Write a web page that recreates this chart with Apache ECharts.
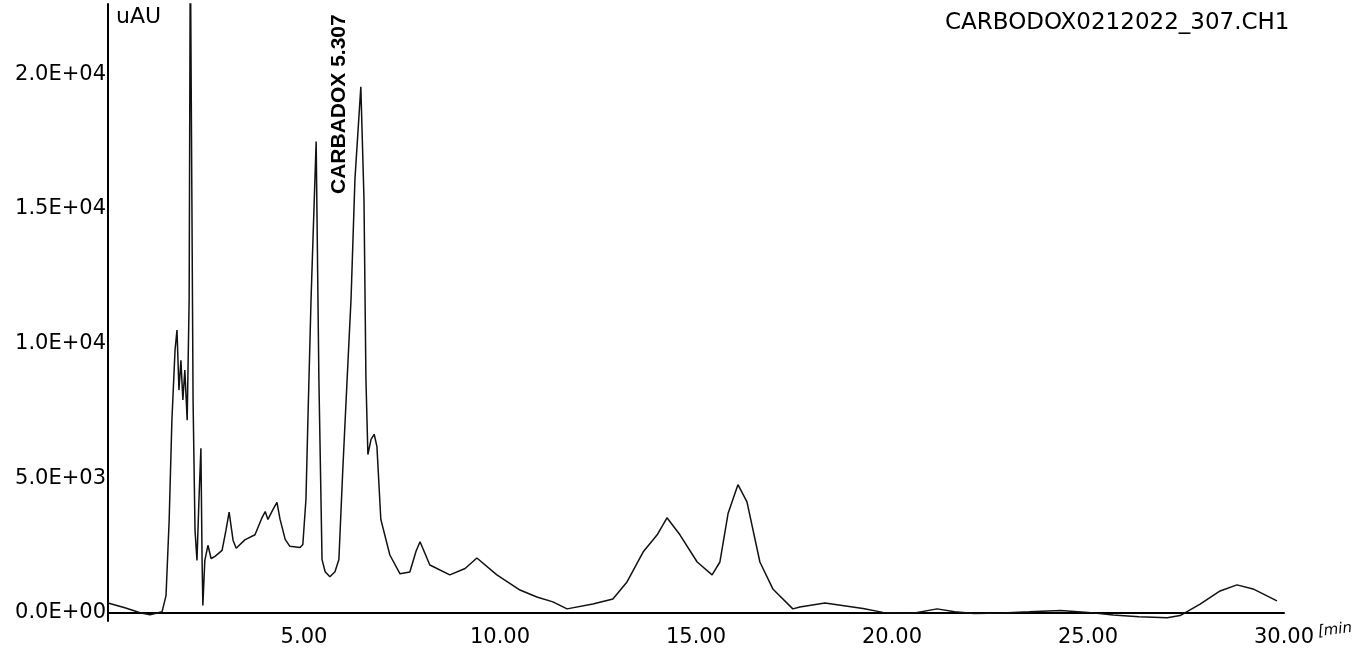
<!DOCTYPE html>
<html>
<head>
<meta charset="utf-8">
<script src="https://cdn.jsdelivr.net/npm/echarts@6/dist/echarts.min.js"></script>
<style>
html,body{margin:0;padding:0;background:#fff;}
#c{width:1352px;height:659px;}
</style>
</head>
<body>
<div id="c"></div>
<script>
// Retention time (min)
const times = [0, 0.43, 0.82, 1.07, 1.38, 1.48, 1.56, 1.63, 1.71, 1.76, 1.81, 1.86, 1.91, 1.96, 2.02, 2.07, 2.10, 2.14, 2.17, 2.22, 2.27, 2.32, 2.37, 2.40, 2.42, 2.47, 2.55, 2.63, 2.73, 2.91, 3.01, 3.09, 3.19, 3.27, 3.49, 3.75, 3.93, 4.01, 4.08, 4.21, 4.31, 4.39, 4.52, 4.64, 4.90, 4.97, 5.05, 5.10, 5.18, 5.31, 5.38, 5.46, 5.54, 5.66, 5.79, 5.89, 5.99, 6.10, 6.20, 6.30, 6.45, 6.53, 6.58, 6.63, 6.71, 6.79, 6.86, 6.96, 7.19, 7.45, 7.70, 7.86, 7.96, 8.06, 8.21, 8.72, 9.11, 9.41, 9.92, 10.51, 10.94, 11.35, 11.71, 12.37, 12.88, 13.24, 13.65, 14.01, 14.26, 14.59, 15.03, 15.41, 15.61, 15.82, 16.07, 16.30, 16.63, 16.96, 17.47, 17.65, 18.29, 19.26, 19.77, 20.54, 21.15, 21.60, 22.10, 22.80, 23.50, 24.30, 25.00, 25.64, 26.30, 27.02, 27.35, 27.86, 28.37, 28.80, 29.21, 29.82];
// Detector response (uAU)
const response = [370, 190, 5, -70, 46, 640, 3430, 7150, 9750, 10500, 8270, 9380, 7900, 9010, 7150, 11610, 25000, 15330, 7900, 3060, 1950, 4180, 6110, 1950, 280, 1950, 2510, 2020, 2100, 2320, 3070, 3740, 2700, 2400, 2710, 2900, 3540, 3760, 3470, 3840, 4100, 3470, 2730, 2470, 2430, 2540, 4220, 7190, 11650, 17500, 8670, 1980, 1530, 1340, 1530, 1980, 5330, 8670, 11650, 16110, 19530, 15370, 8670, 5880, 6440, 6630, 6180, 3470, 2150, 1450, 1520, 2300, 2640, 2300, 1780, 1410, 1650, 2040, 1410, 850, 590, 410, 150, 330, 520, 1150, 2260, 2900, 3530, 2900, 1890, 1410, 1890, 3700, 4760, 4120, 1890, 890, 150, 220, 370, 160, 20, -10, 150, 40, -20, 0, 40, 90, 20, -80, -140, -180, -100, 330, 815, 1040, 890, 445];
// Axis tick labels
const xTicks = [5, 10, 15, 20, 25, 30];
const yTicks = [0, 5000, 10000, 15000, 20000];
const peakName = 'CARBADOX';
const peakTime = 5.307;
const peakValue = 17500;

const FONT = 'DejaVu Sans';
function sci(v) {
  if (v === 0) return '0.0E+00';
  const e = Math.floor(Math.log10(Math.abs(v)));
  const m = v / Math.pow(10, e);
  return m.toFixed(1) + 'E+' + String(e).padStart(2, '0');
}

const chart = echarts.init(document.getElementById('c'));
const data = times.map((t, i) => [t, response[i]]);

chart.setOption({
  animation: false,
  backgroundColor: '#fff',
  grid: { left: 108, right: 68, top: 4, bottom: 38, containLabel: false },
  xAxis: {
    type: 'value', min: 0, max: 30, interval: 5,
    axisLine: { show: true, lineStyle: { color: '#000', width: 2 } },
    axisTick: { show: false },
    splitLine: { show: false },
    axisLabel: {
      customValues: xTicks,
      formatter: v => v.toFixed(2),
      fontFamily: FONT, fontSize: 21, color: '#000', margin: 6
    }
  },
  yAxis: {
    type: 'value', min: -300, max: 22600,
    axisLine: { show: true, lineStyle: { color: '#000', width: 2 } },
    axisTick: { show: false },
    splitLine: { show: false },
    axisLabel: {
      customValues: yTicks,
      formatter: v => sci(v),
      fontFamily: FONT, fontSize: 21, color: '#000', margin: 2
    }
  },
  series: [{
    type: 'line',
    data: data,
    showSymbol: false,
    clip: true,
    lineStyle: { color: '#111', width: 1.5 }
  }]
});

const p = chart.convertToPixel({ gridIndex: 0 }, [peakTime, peakValue]);
chart.setOption({
  graphic: [
    { type: 'text', left: 116, top: 6, style: { text: 'uAU', font: '22px "DejaVu Sans"', fill: '#000' } },
    { type: 'text', left: 945, top: 12, style: { text: 'CARBODOX0212022_307.CH1', font: '23px "DejaVu Sans"', fill: '#000' } },
    { type: 'text', x: 1318, y: 632, rotation: 0.12, style: { text: '[min', font: 'italic 15px "DejaVu Sans"', fill: '#000', align: 'left', verticalAlign: 'middle' } },
    { type: 'text', x: p[0] + 23, y: 194, rotation: Math.PI / 2,
      style: { text: peakName + ' ' + peakTime.toFixed(3), font: 'bold 21px "Liberation Sans"', fill: '#000', align: 'left', verticalAlign: 'middle' } }
  ]
});
</script>
</body>
</html>
